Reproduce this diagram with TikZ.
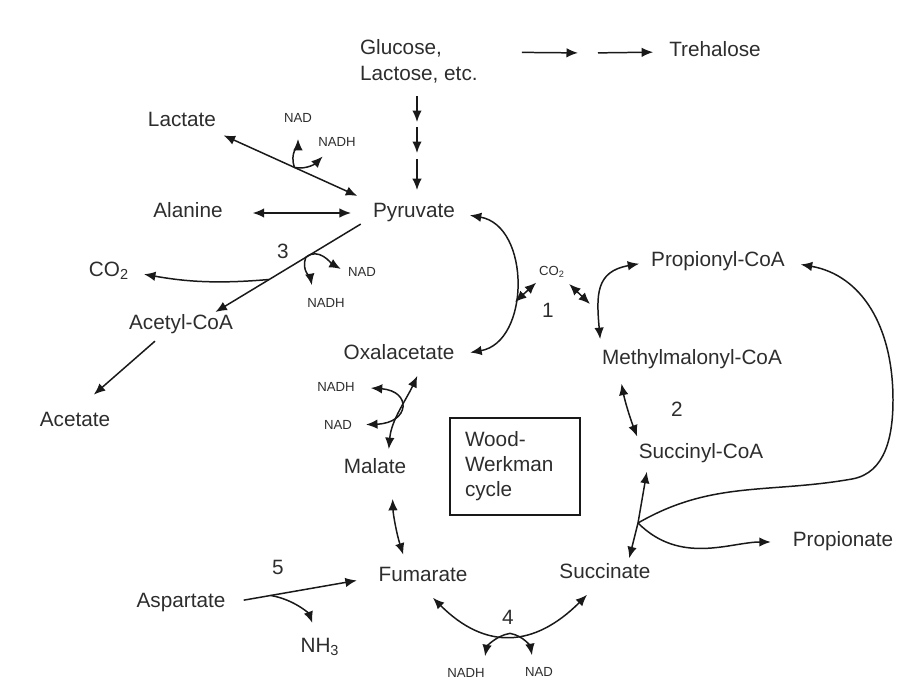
\documentclass[tikz,border=0pt]{standalone}
\usepackage{fontspec}
\setmainfont{Liberation Sans}
\usetikzlibrary{arrows.meta,positioning}
\definecolor{InkGray}{RGB}{45,45,45}
\definecolor{LineGray}{RGB}{25,25,25}

\begin{document}
\begin{tikzpicture}[x=0.02cm, y=0.02cm,
    met/.style={font=\fontsize{11.8}{14}\selectfont, text=InkGray, inner sep=1pt, text height=0.75em, text depth=0.25em},
    cof/.style={font=\fontsize{7.5}{9}\selectfont, text=InkGray, inner sep=1pt, text height=0.75em, text depth=0.25em},
    num/.style={met},
    fwd/.style={-{Latex[length=2.3mm,width=1.9mm]}, line width=0.85pt, draw=LineGray},
    rev/.style={{Latex[length=2.3mm,width=1.9mm]}-{Latex[length=2.3mm,width=1.9mm]}, line width=0.85pt, draw=LineGray},
    cyclebox/.style={draw=LineGray, line width=0.6pt, font=\fontsize{11.8}{14.2}\selectfont, text=InkGray, align=left, text width=2cm, inner xsep=0.3cm, minimum height=1.94cm}]

    % Page frame
    \useasboundingbox (0,0) rectangle (900,-686);

    % Metabolites
    \node[met, anchor=west, align=left, font=\fontsize{11.8}{15}\selectfont, text height=, text depth=] (glucose) at (358,-61) {Glucose,\\Lactose, etc.};
    \node[met] (trehalose) at (715,-52) {Trehalose};
    \node[met] (lactate) at (182,-122) {Lactate};
    \node[met] (alanine) at (188,-213) {Alanine};
    \node[met] (pyruvate) at (414,-213) {Pyruvate};
    \node[met] (co2) at (109,-272) {CO\textsubscript{2}};
    \node[met] (acetylcoa) at (181,-325) {Acetyl-CoA};
    \node[met] (acetate) at (75,-422) {Acetate};
    \node[met] (oxal) at (399,-355) {Oxalacetate};
    \node[met] (malate) at (375,-469) {Malate};
    \node[met] (fumarate) at (423,-577) {Fumarate};
    \node[met] (aspartate) at (181,-603) {Aspartate};
    \node[met] (nh3) at (320,-648) {NH\textsubscript{3}};
    \node[met] (succinate) at (605,-574) {Succinate};
    \node[met] (succoa) at (701,-454) {Succinyl-CoA};
    \node[met] (methyl) at (692,-360) {Methylmalonyl-CoA};
    \node[met] (propcoa) at (718,-262) {Propionyl-CoA};
    \node[met] (propionate) at (843,-542) {Propionate};
    \node[cyclebox] (wwbox) at (515,-466.5) {Wood-\\Werkman\\cycle};

    % Cofactors
    \node[cof] (nadA) at (298,-118) {NAD};
    \node[cof] (nadhA) at (337,-142) {NADH};
    \node[cof] (nadB) at (362,-272) {NAD};
    \node[cof] (nadhB) at (326,-303) {NADH};
    \node[cof] (co2s) at (552,-271) {CO\textsubscript{2}};
    \node[cof] (nadhC) at (336,-387) {NADH};
    \node[cof] (nadC) at (338,-425) {NAD};
    \node[cof] (nadhD) at (466,-673) {NADH};
    \node[cof] (nadD) at (539,-672) {NAD};

    % Enzyme numbers
    \node[num] (three) at (283,-254) {3};
    \node[num] (one) at (548,-313) {1};
    \node[num] (two) at (677,-412) {2};
    \node[num] (four) at (508,-620) {4};
    \node[num] (five) at (278,-570) {5};

    % Sugars to trehalose and to pyruvate
    \coordinate (tmid) at (588,-53);
    \draw[fwd, shorten <=0.84cm, shorten >=0.2cm] (glucose.east |- trehalose) -- (tmid);
    \draw[fwd, shorten <=0.2cm, shorten >=0.28cm] (tmid) -- (trehalose.west);
    \coordinate (gA) at (417,-125);
    \coordinate (gB) at (417,-156);
    \draw[fwd, shorten <=0.22cm, shorten >=0.06cm] (gA |- glucose.south) -- (gA);
    \draw[fwd, shorten <=0.04cm, shorten >=0.06cm] (gA) -- (gB);
    \draw[fwd, shorten <=0.06cm, shorten >=0.24cm] (gB) -- (gB |- pyruvate.north);

    % Lactate and alanine
    \draw[rev, shorten <=0.12cm, shorten >=0.3cm] (lactate.south east) -- node[coordinate, pos=0.5] (jLac) {} (pyruvate.north west);
    \draw[fwd, shorten >=0.2cm] (jLac) to[out=110, in=-90] (nadA.south);
    \draw[fwd, shorten >=0.1cm] (jLac) to[out=-10, in=-135] ([xshift=0.2cm]nadhA.south west);
    \draw[rev, shorten <=0.56cm, shorten >=0.4cm] (alanine.east) -- (pyruvate.west);

    % Pyruvate to acetyl-CoA (3)
    \draw[fwd, shorten <=0.24cm, shorten >=0.08cm] ([yshift=0.12cm]pyruvate.south west) -- node[coordinate, pos=0.41] (jNAD) {} node[coordinate, pos=0.64] (jCO2) {} ([xshift=0.62cm]acetylcoa.north);
    \draw[fwd, shorten >=0.26cm] (jCO2) to[out=185, in=-10] (co2.east);
    \draw[fwd, shorten >=0.12cm] (jNAD) to[out=40, in=150] (nadB.west);
    \draw[fwd, shorten >=0.14cm] (jNAD) to[out=-110, in=100] ([xshift=-0.26cm]nadhB.north);
    \draw[fwd, shorten <=0.16cm, shorten >=0.5cm] ([xshift=-0.4cm]acetylcoa.south) -- (acetate.north);

    % Transcarboxylation (1)
    \draw[rev, shorten <=0.26cm, shorten >=0.28cm] (pyruvate.east) to[out=-10, in=10, looseness=1.35] (oxal.east);
    \coordinate (c1L) at (515,-302);
    \coordinate (c1R) at (590,-304);
    \draw[rev, shorten >=0.02cm] (c1L) -- (co2s.south west);
    \draw[rev, shorten <=0.06cm] (co2s.south east) -- (c1R);
    \draw[rev, shorten <=0.2cm, shorten >=0.2cm] (propcoa.west) to[out=190, in=95, looseness=1.4] ([xshift=0.02cm]methyl.north west);

    % Methylmalonyl-CoA mutase (2)
    \draw[rev, shorten <=0.26cm, shorten >=0.14cm] ([xshift=0.38cm]methyl.south west) to[bend right=5] ([xshift=0.06cm]succoa.north west);

    % Succinate, succinyl-CoA and the CoA transfer loop
    \coordinate (jS) at (638,-523);
    \coordinate (loopA) at (852,-479);
    \coordinate (loopB) at (893,-400);
    \draw[rev, shorten <=0.1cm, shorten >=0.14cm] ([xshift=0.46cm]succinate.north) -- (jS) -- ([xshift=-1.06cm]succoa.south);
    \draw[fwd, shorten >=0.28cm] (jS) to[out=30, in=190] (loopA) to[out=10, in=-90] (loopB) to[out=90, in=-10, looseness=1.1] (propcoa.east);
    \draw[fwd, shorten >=0.4cm] (jS) to[out=-45, in=180] (propionate.west);

    % Oxalacetate to malate
    \draw[rev, shorten <=0.22cm, shorten >=0.18cm] ([xshift=0.46cm]oxal.south) to[out=-115, in=85] ([xshift=0.26cm]malate.north);
    \draw[rev, shorten <=0.28cm, shorten >=0.24cm] (nadhC.east) .. controls (412,-391) and (410,-423) .. (nadC.east);

    % Malate to fumarate
    \draw[rev, shorten <=0.38cm, shorten >=0.24cm] ([xshift=0.34cm]malate.south) to[bend right=8] ([xshift=-0.32cm]fumarate.north);

    % Aspartate (5)
    \draw[fwd, shorten <=0.33cm, shorten >=0.4cm] (aspartate.east) -- node[coordinate, pos=0.29] (jAsp) {} (fumarate.west);
    \draw[fwd, shorten >=0.3cm] (jAsp) to[out=-10, in=110] ([xshift=-0.05cm]nh3.north);

    % Fumarate reductase (4)
    \draw[rev, shorten <=0.28cm, shorten >=0.28cm] (fumarate.south) to[out=-45, in=-135, looseness=1.3] node[coordinate, pos=0.5] (jFum) {} ([xshift=-0.16cm]succinate.south);
    \draw[fwd, shorten >=0.12cm] (jFum) to[out=190, in=80] ([xshift=0.36cm]nadhD.north);
    \draw[fwd, shorten >=0.12cm] (jFum) to[out=-10, in=100] ([xshift=-0.12cm]nadD.north);
\end{tikzpicture}
\end{document}
